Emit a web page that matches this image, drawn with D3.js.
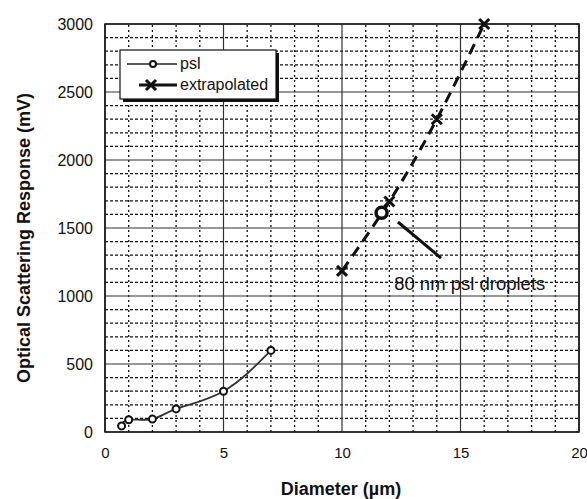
<!DOCTYPE html>
<html>
<head>
<meta charset="utf-8">
<script src="https://cdn.jsdelivr.net/npm/d3@7"></script>
<style>
  body { margin: 0; background: #fff; }
  text { font-family: "Liberation Sans", Arial, sans-serif; fill: #111; }
</style>
</head>
<body>
<div id="chart"></div>
<script>
// data
const pslX = [0.7, 1, 2, 3, 5, 7]
const pslY = [45, 90, 95, 170, 300, 600]
const extX = [10, 12, 14, 16]
const extY = [1185, 1695, 2300, 3000]
const dropletPoint = [11.67, 1612]
const calloutLine = [[12.36, 1544], [14.18, 1279]]
const calloutText = "80 nm psl droplets"
const calloutPos = [12.2, 1045]
const xTicks = [0, 5, 10, 15, 20]
const yTicks = [0, 500, 1000, 1500, 2000, 2500, 3000]
const legendLabels = ["psl", "extrapolated"]

const width = 587, height = 499
const margin = { left: 105, right: 8, top: 24, bottom: 67 }

const svg = d3.select("#chart").append("svg")
  .attr("width", width)
  .attr("height", height)

const x = d3.scaleLinear().domain([0, 20]).range([margin.left, width - margin.right])
const y = d3.scaleLinear().domain([0, 3000]).range([height - margin.bottom, margin.top])

// minor grid
svg.append("g").selectAll("line")
  .data(d3.range(0, 3001, 100).filter(v => v % 500 != 0))
  .enter().append("line")
  .attr("x1", x(0)).attr("x2", x(20))
  .attr("y1", d => y(d)).attr("y2", d => y(d))
  .style("stroke", "#111").style("stroke-width", 1.3)
  .style("stroke-dasharray", "3,2")

svg.append("g").selectAll("line")
  .data(d3.range(0, 21, 1).filter(v => v % 5 != 0))
  .enter().append("line")
  .attr("x1", d => x(d)).attr("x2", d => x(d))
  .attr("y1", y(0)).attr("y2", y(3000))
  .style("stroke", "#111").style("stroke-width", 1.3)
  .style("stroke-dasharray", "2,3")

// major grid
svg.append("g").selectAll("line")
  .data(yTicks)
  .enter().append("line")
  .attr("x1", x(0)).attr("x2", x(20))
  .attr("y1", d => y(d)).attr("y2", d => y(d))
  .style("stroke", "#333").style("stroke-width", 1.2)

svg.append("g").selectAll("line")
  .data(xTicks)
  .enter().append("line")
  .attr("x1", d => x(d)).attr("x2", d => x(d))
  .attr("y1", y(0)).attr("y2", y(3000))
  .style("stroke", "#333").style("stroke-width", 1.2)

svg.append("rect")
  .attr("x", x(0)).attr("y", y(3000))
  .attr("width", x(20) - x(0)).attr("height", y(0) - y(3000))
  .style("fill", "none").style("stroke", "#111").style("stroke-width", 1.5)

// axes
const xAxis = svg.append("g")
  .attr("transform", `translate(0,${y(0) + 11})`)
  .call(d3.axisBottom(x).tickValues(xTicks).tickSize(0).tickPadding(4).tickFormat(d3.format("d")))
xAxis.select(".domain").remove()
xAxis.selectAll("text").style("font-size", "15px").style("font-family", "Liberation Sans, Arial")

const yAxis = svg.append("g")
  .attr("transform", `translate(${x(0) - 10},0)`)
  .call(d3.axisLeft(y).tickValues(yTicks).tickSize(0).tickPadding(2).tickFormat(d3.format("d")))
yAxis.select(".domain").remove()
yAxis.selectAll("text").style("font-size", "16px").style("font-family", "Liberation Sans, Arial")

svg.append("text")
  .attr("x", (x(0) + x(20)) / 2 - 1)
  .attr("y", 495)
  .attr("text-anchor", "middle")
  .style("font-size", "18px").style("font-weight", "bold")
  .text("Diameter (\u00b5m)")

svg.append("text")
  .attr("transform", `translate(30,${(y(0) + y(3000)) / 2 + 10}) rotate(-90)`)
  .attr("text-anchor", "middle")
  .style("font-size", "18px").style("font-weight", "bold")
  .text("Optical Scattering Response (mV)")

// psl series
const pslData = pslX.map((v, i) => [v, pslY[i]])
const line = d3.line().x(d => x(d[0])).y(d => y(d[1])).curve(d3.curveNatural)

svg.append("path")
  .datum(pslData)
  .attr("d", line)
  .style("fill", "none").style("stroke", "#333").style("stroke-width", 1.8)

svg.append("g").selectAll("circle")
  .data(pslData)
  .enter().append("circle")
  .attr("cx", d => x(d[0])).attr("cy", d => y(d[1]))
  .attr("r", 3.5)
  .style("fill", "#fff").style("stroke", "#111").style("stroke-width", 2)

// extrapolated series
const extData = extX.map((v, i) => [v, extY[i]])
svg.append("path")
  .datum(extData)
  .attr("d", line)
  .style("fill", "none").style("stroke", "#111").style("stroke-width", 3)
  .style("stroke-dasharray", "11,7")

function cross(g, cx, cy, s) {
  g.append("path")
    .attr("d", `M${cx - s},${cy - s}L${cx + s},${cy + s}M${cx - s},${cy + s}L${cx + s},${cy - s}`)
    .style("stroke", "#111").style("stroke-width", 3).style("fill", "none")
}
const crosses = svg.append("g")
extData.forEach(d => cross(crosses, x(d[0]), y(d[1]), 5))

// droplet marker and callout
svg.append("circle")
  .attr("cx", x(dropletPoint[0])).attr("cy", y(dropletPoint[1]))
  .attr("r", 5.5)
  .style("fill", "#fff").style("stroke", "#111").style("stroke-width", 3.5)

svg.append("line")
  .attr("x1", x(calloutLine[0][0])).attr("y1", y(calloutLine[0][1]))
  .attr("x2", x(calloutLine[1][0])).attr("y2", y(calloutLine[1][1]))
  .style("stroke", "#111").style("stroke-width", 3)

svg.append("text")
  .attr("x", x(calloutPos[0])).attr("y", y(calloutPos[1]))
  .style("font-size", "18.5px")
  .text(calloutText)

// legend
const legend = svg.append("g").attr("transform", "translate(120,50)")
legend.append("rect")
  .attr("x", 3).attr("y", 3).attr("width", 156).attr("height", 49)
  .style("fill", "#111")
legend.append("rect")
  .attr("width", 156).attr("height", 49)
  .style("fill", "#fff").style("stroke", "#111").style("stroke-width", 1.2)

legend.append("line")
  .attr("x1", 7).attr("x2", 57).attr("y1", 14).attr("y2", 14)
  .style("stroke", "#222").style("stroke-width", 1.5)
legend.append("circle")
  .attr("cx", 33).attr("cy", 14).attr("r", 3)
  .style("fill", "#fff").style("stroke", "#111").style("stroke-width", 2)
legend.append("line")
  .attr("x1", 19).attr("x2", 57).attr("y1", 35).attr("y2", 35)
  .style("stroke", "#111").style("stroke-width", 3)
cross(legend, 31, 35, 5)

legend.selectAll(".lab")
  .data(legendLabels)
  .enter().append("text")
  .attr("class", "lab")
  .attr("x", 60)
  .attr("y", (d, i) => 19 + i * 21)
  .style("font-size", "16px")
  .text(d => d)
</script>
</body>
</html>
